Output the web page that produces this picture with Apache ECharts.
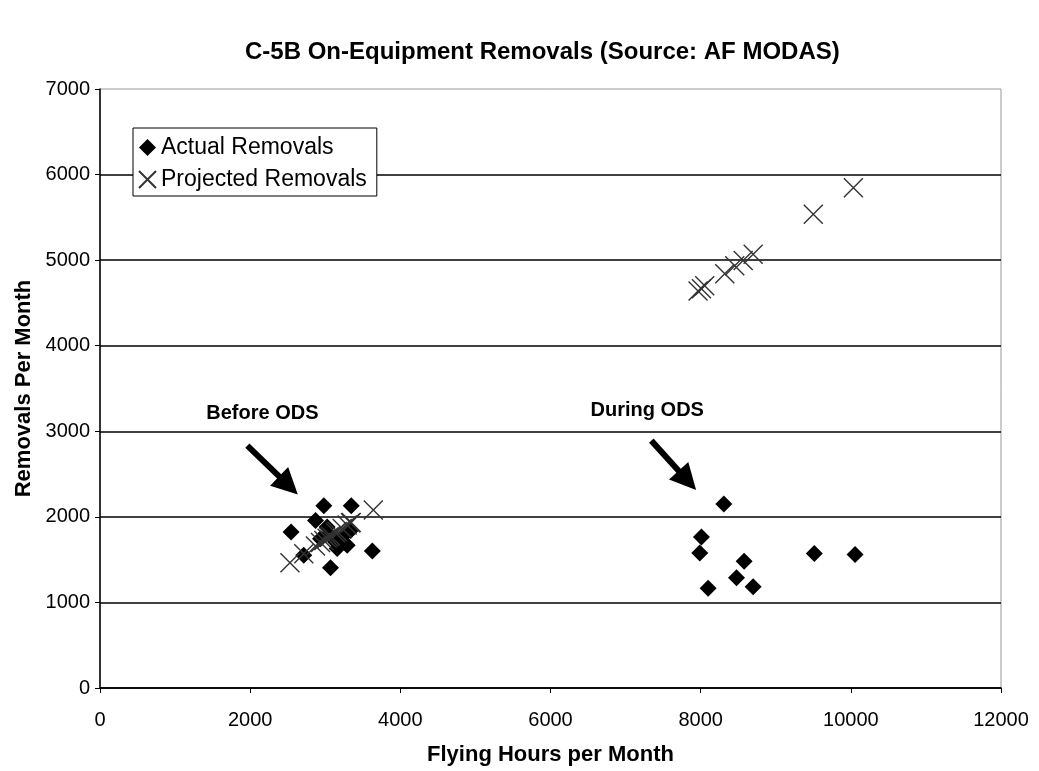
<!DOCTYPE html>
<html>
<head>
	<meta charset="utf-8">
	<title>C-5B On-Equipment Removals</title>
	<script src="https://cdn.jsdelivr.net/npm/echarts@6/dist/echarts.min.js"></script>
	<style>
		html,body{margin:0;padding:0;background:#fff;}
		#chart{width:1039px;height:771px;}
	</style>
</head>
<body>
	<div id="chart"></div>
<script type="text/javascript">
	// flying hours / removals
	var actualBefore=[
		[2545,1823],[2714,1552],[2870,1958],[2981,2130],[3346,2130],[3627,1602],[3070,1405],
		[2937,1745],[3048,1803],[3137,1707],[3226,1765],[3292,1668],[3159,1630],[3025,1881],[3337,1842]
	];
	var actualDuring=[
		[8308,2151],[8010,1765],[7988,1579],[8579,1482],[8477,1289],[8099,1165],[8699,1184],[9514,1571],[10056,1559]
	];
	var projectedBefore=[
		[2530,1465],[2714,1570],[2870,1660],[2937,1700],[2981,1725],[3025,1750],[3048,1765],[3070,1775],
		[3137,1815],[3159,1830],[3226,1865],[3292,1905],[3337,1930],[3346,1935],[3640,2080]
	];
	var projectedDuring=[
		[7965,4640],[8010,4665],[8054,4700],[8321,4840],[8454,4935],[8566,4995],[8699,5070],[9500,5535],[10034,5845]
	];
	var notes=[
		{text:'Before ODS',at:[2163,3204],from:[1962,2833],to:[2510,2368]},
		{text:'During ODS',at:[7289,3239],from:[7343,2891],to:[7823,2426]}
	];

	var crossPath='path://M0,0L10,10M10,0L0,10';
	var font='"Liberation Sans", Arial, sans-serif';

	var myChart=echarts.init(document.getElementById('chart'),null,{renderer:'canvas'});
	var option={
		backgroundColor:'#fff',
		animation:false,
		title:{
			text:'C-5B On-Equipment Removals (Source: AF MODAS)',
			left:240,
			top:35,
			textStyle:{fontFamily:font,fontSize:24,fontWeight:'bold',color:'#000'}
		},
		legend:{
			orient:'vertical',
			left:133,
			top:128,
			padding:[8,10,5,5],
			itemGap:9,
			itemWidth:17,
			itemHeight:17,
			borderColor:'#000',
			borderWidth:1,
			backgroundColor:'#fff',
			textStyle:{fontFamily:font,fontSize:23,color:'#000'},
			data:[
				{name:'Actual Removals',icon:'diamond'},
				{name:'Projected Removals',icon:crossPath}
			]
		},
		grid:{
			left:100,right:38,top:89,bottom:79,
			show:true,borderColor:'#999',borderWidth:1
		},
		xAxis:{
			type:'value',
			min:0,max:12000,interval:2000,
			name:'Flying Hours per Month',
			nameLocation:'middle',
			nameGap:56,
			nameTextStyle:{fontFamily:font,fontSize:22,fontWeight:'bold',color:'#000'},
			axisLine:{lineStyle:{color:'#000',width:1.5}},
			axisTick:{show:true,length:5,lineStyle:{color:'#000'}},
			axisLabel:{fontFamily:font,fontSize:20,color:'#000',margin:22,formatter:function(v){return String(v);}},
			splitLine:{show:false}
		},
		yAxis:{
			type:'value',
			min:0,max:7000,interval:1000,
			name:'Removals Per Month',
			nameLocation:'middle',
			nameGap:64,
			nameTextStyle:{fontFamily:font,fontSize:22,fontWeight:'bold',color:'#000'},
			axisLine:{show:true,lineStyle:{color:'#000',width:1.5}},
			axisTick:{show:true,length:5,lineStyle:{color:'#000'}},
			axisLabel:{fontFamily:font,fontSize:20,color:'#000',margin:10,formatter:function(v){return String(v);}},
			splitLine:{show:true,showMaxLine:false,lineStyle:{color:'#000',width:1.5}}
		},
		series:[
			{
				name:'Actual Removals',
				type:'scatter',
				symbol:'diamond',
				symbolSize:17,
				itemStyle:{color:'#000',opacity:1},
				data:actualBefore.concat(actualDuring),
				z:3
			},
			{
				name:'Projected Removals',
				type:'scatter',
				symbol:crossPath,
				symbolSize:19,
				itemStyle:{color:'rgba(0,0,0,0)',borderColor:'#333',borderWidth:1.4,opacity:1},
				data:projectedBefore.concat(projectedDuring),
				z:4
			},
			{
				name:'notes',
				type:'scatter',
				data:[],
				silent:true,
				markPoint:{
					symbol:'circle',
					symbolSize:0,
					label:{show:true,position:'inside',fontFamily:font,fontSize:20,fontWeight:'bold',color:'#000'},
					data:notes.map(function(n){return {coord:n.at,value:n.text,label:{formatter:n.text}};})
				},
				markLine:{
					silent:true,
					symbol:['none','triangle'],
					symbolSize:26,
					label:{show:false},
					lineStyle:{color:'#000',width:6,type:'solid',opacity:1},
					data:notes.map(function(n){return [{coord:n.from},{coord:n.to}];})
				}
			}
		]
	};
	myChart.setOption(option);

	window.addEventListener('resize',()=>{
		myChart.resize();
	});
</script>
</body>
</html>
